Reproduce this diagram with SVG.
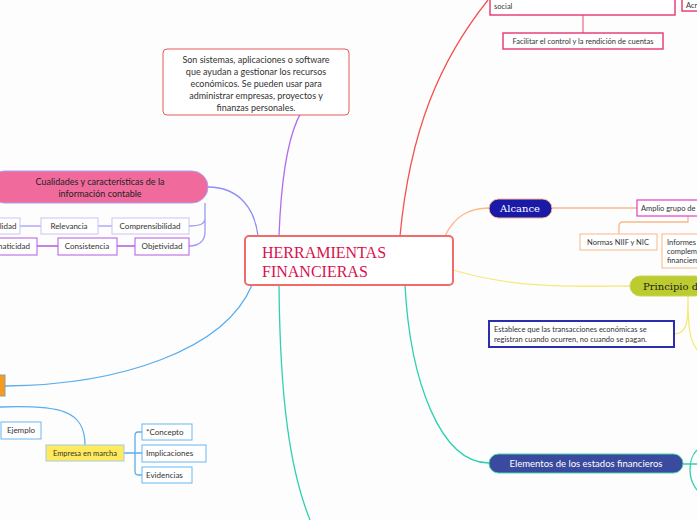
<svg xmlns="http://www.w3.org/2000/svg" width="697" height="520" viewBox="0 0 697 520">
<style>
text{font-family:Lato,"Open Sans",sans-serif;font-size:8px;fill:#333}
.b{fill:#fff}
.c{fill:none;stroke-width:1.3}
.w{fill:#fff}
</style>
<rect width="697" height="520" fill="#fdfdfd"/>
<g id="connectors">
<path class="c" stroke="#b36bf0" d="M279,236 C283,130 300,85 349,82"/>
<path class="c" stroke="#8f8ff5" d="M208,187 C240,187 255,210 258,236"/>
<path class="c" stroke="#9b9bf5" d="M205,203 V218 C205,224 200,226 189,226 M205,210 V232 C205,240 200,246 189,246"/>
<path class="c" stroke="#b0aaf5" d="M20,226 H41 M98,226 H112"/>
<path class="c" stroke="#b35be0" d="M37,246 H58 M117,246 H135"/>
<path class="c" stroke="#5aaef0" d="M5,386 C120,385 225,350 252,285"/>
<path class="c" stroke="#5aaef0" d="M0,407 C60,405 85,410 85,445"/>
<path class="c" stroke="#5aaef0" d="M124,453 H135 M142,432 H138 Q135,432 135,436 V471 Q135,475 138,475 H142 M135,453 H142"/>
<path class="c" stroke="#2ed1b0" d="M279,285 C280,400 290,470 310,520"/>
<path class="c" stroke="#2ed1b0" d="M405,285 C410,380 440,463 489,463"/>
<path class="c" stroke="#2ed1b0" d="M683,464 H697 M697,450 C692,455 690,460 690,470 C690,478 693,485 697,490"/>
<path class="c" stroke="#f2534f" d="M400,236 C410,130 440,60 488,0"/>
<path class="c" stroke="#f06f8f" d="M583,15 V33"/>
<path class="c" stroke="#f9b88a" d="M445,236 C455,215 470,208 489,208"/>
<path class="c" stroke="#f9b88a" d="M552,208 H637 M688,216 V222 H623 Q619,222 619,226 V234"/>
<path class="c" stroke="#f5e97a" d="M453,270 C520,290 580,286 630,286"/>
<path class="c" stroke="#f5e97a" d="M688,296 C688,320 688,334 674,334 M688,296 C688,330 690,340 697,350"/>
</g>
<g id="center">
<rect x="245" y="236" width="208" height="49" rx="4" fill="#fff" stroke="#f26b6b" stroke-width="2"/>
<text x="262" y="258" style="font-family:'Liberation Serif',serif;font-size:16px;fill:#d9114e">HERRAMIENTAS</text>
<text x="262" y="277" style="font-family:'Liberation Serif',serif;font-size:16px;fill:#d9114e">FINANCIERAS</text>
</g>
<g id="desc">
<rect x="163" y="49" width="186" height="66" rx="4" fill="#fff" stroke="#e85b5b"/>
<g text-anchor="middle" style="font-size:9px">
<text x="256" y="63" style="font-size:9px">Son sistemas, aplicaciones o software</text>
<text x="256" y="75" style="font-size:9px">que ayudan a gestionar los recursos</text>
<text x="256" y="87" style="font-size:9px">económicos. Se pueden usar para</text>
<text x="256" y="99" style="font-size:9px">administrar empresas, proyectos y</text>
<text x="256" y="111" style="font-size:9px">finanzas personales.</text>
</g>
</g>
<g id="cualidades">
<rect x="-12" y="171" width="220" height="32" rx="16" fill="#f06b9b" stroke="#a9a0f5"/>
<text x="100" y="185" text-anchor="middle" style="font-size:9px;fill:#222">Cualidades y características de la</text>
<text x="100" y="197" text-anchor="middle" style="font-size:9px;fill:#222">información contable</text>
</g>
<g id="row1" text-anchor="middle">
<rect x="-5" y="218" width="25" height="16" fill="#fff" stroke="#c9c4f5"/><text x="8" y="229">lidad</text>
<rect x="41" y="218" width="57" height="16" fill="#fff" stroke="#c9c4f5"/><text x="69" y="229">Relevancia</text>
<rect x="112" y="218" width="77" height="16" fill="#fff" stroke="#c9c4f5"/><text x="150" y="229">Comprensibilidad</text>
</g>
<g id="row2" text-anchor="middle">
<rect x="-5" y="238" width="42" height="17" fill="#fff" stroke="#b35be0"/><text x="14" y="249">naticidad</text>
<rect x="58" y="238" width="59" height="17" fill="#fff" stroke="#b35be0"/><text x="87" y="249">Consistencia</text>
<rect x="135" y="238" width="54" height="17" fill="#fff" stroke="#b35be0"/><text x="162" y="249">Objetividad</text>
</g>
<g id="orange"><rect x="-5" y="375" width="10" height="21" fill="#f39c1f" stroke="#999"/></g>
<g id="empresa">
<rect x="1" y="422" width="40" height="17" fill="#fff" stroke="#69b6f0"/><text x="21" y="433" text-anchor="middle">Ejemplo</text>
<rect x="46" y="445" width="78" height="16" fill="#ffea5e" stroke="#a6cbe0"/><text x="85" y="456" text-anchor="middle" style="font-size:7.5px">Empresa en marcha</text>
<rect x="142" y="424" width="50" height="16" fill="#fff" stroke="#69b6f0"/><text x="146" y="435">*Concepto</text>
<rect x="142" y="445" width="64" height="17" fill="#fff" stroke="#69b6f0"/><text x="146" y="456">Implicaciones</text>
<rect x="142" y="467" width="50" height="16" fill="#fff" stroke="#69b6f0"/><text x="146" y="478">Evidencias</text>
</g>
<g id="top">
<rect x="490" y="-10" width="185" height="25" fill="#fff" stroke="#e8407a" stroke-width="1.5"/><text x="494" y="9" style="font-size:7.5px">social</text>
<rect x="503" y="33" width="160" height="16" fill="#fff" stroke="#e8407a" stroke-width="1.5"/><text x="583" y="44" text-anchor="middle" style="font-size:7.5px">Facilitar el control y la rendición de cuentas</text>
<rect x="682" y="-5" width="20" height="16" fill="#fff" stroke="#e8407a" stroke-width="1.5"/><text x="686" y="8" style="font-size:7.5px">Acr</text>
</g>
<g id="alcance">
<rect x="489" y="199" width="63" height="19" rx="9.5" fill="#1a1aa8" stroke="#f9b88a"/>
<text x="520" y="212" text-anchor="middle" style="font-family:'DejaVu Serif',serif;font-size:10px;fill:#fff">Alcance</text>
<rect x="637" y="200" width="66" height="16" fill="#fff" stroke="#e040c8" stroke-width="1.2"/><text x="641" y="211" style="font-size:7.5px">Amplio grupo de</text>
<rect x="580" y="234" width="77" height="16" fill="#fff" stroke="#f9b88a"/><text x="618" y="245" text-anchor="middle" style="font-size:7.5px">Normas NIIF y NIC</text>
<rect x="662" y="234" width="40" height="34" fill="#fff" stroke="#f9b88a"/>
<text x="667" y="245" style="font-size:7.5px">Informes</text><text x="667" y="254" style="font-size:7.5px">complem</text><text x="667" y="263" style="font-size:7.5px">financiero</text>
</g>
<g id="principio">
<rect x="630" y="276" width="75" height="20" rx="10" fill="#bccc2e" stroke="#c8d65a"/>
<text x="643" y="290" style="font-family:'DejaVu Serif',serif;font-size:10px;fill:#222">Principio de</text>
<rect x="489" y="321" width="185" height="26" fill="#fff" stroke="#2d2db0" stroke-width="2"/>
<text x="494" y="332" style="font-size:7.5px">Establece que las transacciones económicas se</text>
<text x="494" y="342" style="font-size:7.5px">registran cuando ocurren, no cuando se pagan.</text>
</g>
<g id="elementos">
<rect x="489" y="454" width="194" height="19" rx="9.5" fill="#3a4a9e" stroke="#3fd6a6"/>
<text x="586" y="467" text-anchor="middle" style="font-size:9.5px;fill:#fff">Elementos de los estados financieros</text>
</g>
</svg>
